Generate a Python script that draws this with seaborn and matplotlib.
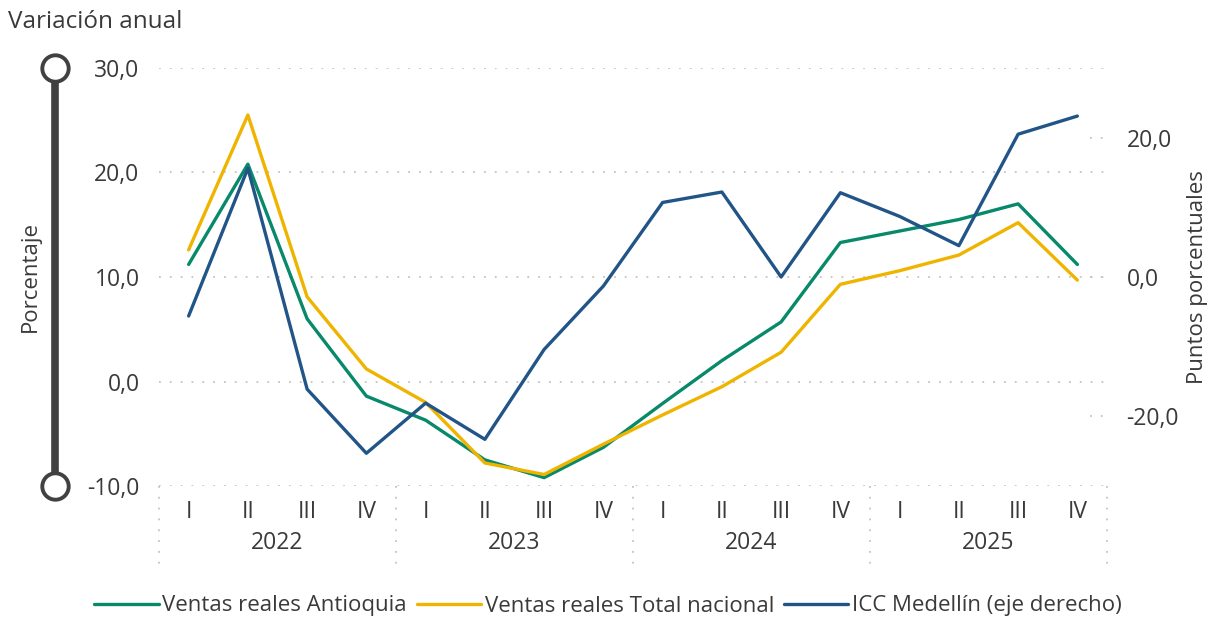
import numpy as np
import pandas as pd
import matplotlib.pyplot as plt
import matplotlib.transforms as mtransforms
from matplotlib.lines import Line2D
import seaborn as sns

# data
quarters = ['I', 'II', 'III', 'IV'] * 4
years = ['2022', '2023', '2024', '2025']
ventas_antioquia = [11.2, 20.8, 6.0, -1.4, -3.7, -7.5, -9.2, -6.3,
                    -2.1, 2.0, 5.7, 13.3, 14.4, 15.5, 17.0, 11.2]
ventas_nacional = [12.6, 25.5, 8.1, 1.2, -2.0, -7.8, -8.9, -6.0,
                   -3.2, -0.5, 2.8, 9.3, 10.6, 12.1, 15.2, 9.7]
icc_medellin = [-5.6, 15.6, -16.1, -25.3, -18.1, -23.3, -10.4, -1.3,
                10.7, 12.2, 0.0, 12.1, 8.7, 4.5, 20.5, 23.1]
left_ticks = [-10, 0, 10, 20, 30]
right_ticks = [-20, 0, 20]

green = '#07896A'
yellow = '#EFB400'
blue = '#215587'
txt = '#3a3a3a'
grid_c = '#c4c4c4'

sns.set_style('white')
plt.rcParams['font.family'] = ['Open Sans', 'DejaVu Sans']

W, H = 1210, 620
fig = plt.figure(figsize=(W / 100, H / 100), dpi=100)
ax = fig.add_axes([159 / W, 1 - 486 / H, (1107 - 159) / W, (486 - 68) / H])

df = pd.DataFrame({'x': np.arange(len(quarters)),
                   'antioquia': ventas_antioquia,
                   'nacional': ventas_nacional,
                   'icc': icc_medellin})

sns.lineplot(data=df, x='x', y='antioquia', ax=ax, color=green, lw=2.4,
             label='Ventas reales Antioquia', zorder=3)
sns.lineplot(data=df, x='x', y='nacional', ax=ax, color=yellow, lw=2.4,
             label='Ventas reales Total nacional', zorder=4)
ax2 = ax.twinx()
sns.lineplot(data=df, x='x', y='icc', ax=ax2, color=blue, lw=2.4,
             label='ICC Medellín (eje derecho)', zorder=5)

h1, l1 = ax.get_legend_handles_labels()
h2, l2 = ax2.get_legend_handles_labels()
ax.get_legend().remove()
ax2.get_legend().remove()

ax.set_xlim(-0.5, 15.5)
ax.set_ylim(-10, 30)
ax2.set_ylim(-30, 30)
ax.set_xlabel('')
ax.set_ylabel('')
ax2.set_ylabel('')

# dotted grid
for v in left_ticks:
    ax.axhline(v, color=grid_c, lw=1.3, ls=(0, (1, 5)), zorder=0)
for v in right_ticks:
    ax2.axhline(v, xmin=0.982, xmax=0.998, color=grid_c, lw=1.3, ls=(0, (1, 5)), zorder=0)

fmt = lambda v: f'{v:.1f}'.replace('.', ',')
ax.set_yticks(left_ticks, [fmt(v) for v in left_ticks])
ax2.set_yticks(right_ticks, [fmt(v) for v in right_ticks])
ax.set_xticks(df['x'], quarters)
ax.tick_params(axis='y', length=0, pad=14, labelsize=16.5, labelcolor=txt)
ax2.tick_params(axis='y', length=0, pad=14, labelsize=16.5, labelcolor=txt)
ax.tick_params(axis='x', length=0, pad=10, labelsize=16.5, labelcolor=txt)

for a in (ax, ax2):
    for s in a.spines.values():
        s.set_visible(False)

# year labels and separators under the quarters
trans = mtransforms.blended_transform_factory(ax.transData, ax.transAxes)
for i, yr in enumerate(years):
    ax.text(1.5 + 4 * i, -0.137, yr, transform=trans, ha='center', va='center',
            fontsize=16.5, color=txt)
for xs in [-0.5, 3.5, 7.5, 11.5, 15.5]:
    ax.plot([xs, xs], [0, -0.19], transform=trans, clip_on=False,
            color=grid_c, lw=1.3, ls=(0, (1, 5)))

# left slider decoration
bx = 55 / W
fig.add_artist(Line2D([bx, bx], [1 - 68 / H, 1 - 486 / H], transform=fig.transFigure,
                      color='#414141', lw=5.5, zorder=1))
fig.add_artist(Line2D([bx, bx], [1 - 68 / H, 1 - 486 / H], transform=fig.transFigure,
                      ls='none', marker='o', ms=19, mfc='white', mec='#414141',
                      mew=2.8, zorder=2))

fig.text(8 / W, 1 - 22 / H, 'Variación anual', ha='left', va='center',
         fontsize=17.5, color=txt)
fig.text(30 / W, 1 - 277 / H, 'Porcentaje', ha='center', va='center',
         rotation=90, fontsize=16, color=txt)
fig.text(1197 / W, 1 - 277 / H, 'Puntos porcentuales', ha='center', va='center',
         rotation=90, fontsize=16, color=txt)

fig.legend(h1 + h2, l1 + l2, loc='center', bbox_to_anchor=(608 / W, 1 - 606 / H),
           ncol=3, frameon=False, handlelength=2.9, handletextpad=0.15,
           columnspacing=0.45, fontsize=16, labelcolor=txt)

plt.savefig('out.png', dpi=100)
